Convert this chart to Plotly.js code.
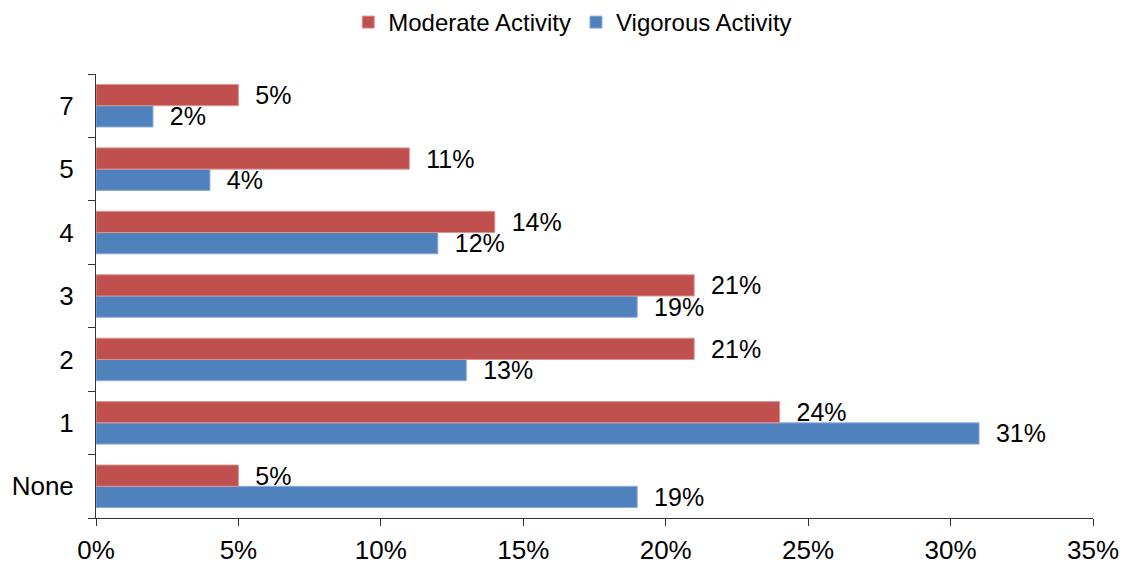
<!DOCTYPE html>
<html>
<head>
<meta charset="utf-8">
<script src="https://cdn.plot.ly/plotly-3.0.1.min.js"></script>
<style>
  html, body { margin: 0; padding: 0; background: #fff; }
  #graph { width: 1123px; height: 566px; }
</style>
</head>
<body>
<div id="graph"></div>
<script>
// days per week (bottom to top)
var days = ['None', '1', '2', '3', '4', '5', '7'];
// percent of respondents
var vigorous = [19, 31, 13, 19, 12, 4, 2];
var moderate = [5, 24, 21, 21, 14, 11, 5];
var xTicks = [0, 5, 10, 15, 20, 25, 30, 35];
var xTickLabels = ['0%', '5%', '10%', '15%', '20%', '25%', '30%', '35%'];

function drawGraph() {
    var fam = 'Liberation Sans, Arial, sans-serif';
    var labelFont = { family: fam, size: 25, color: '#000' };

    // vigorous first so it sits below moderate within each group
    var vig = {
        y: days, x: vigorous, type: 'bar', orientation: 'h',
        name: 'Vigorous Activity',
        marker: { color: '#4F81BD', line: { color: '#8EAADB', width: 1 } },
        texttemplate: '\u00a0\u00a0%{x:.0f}%', textposition: 'outside',
        constraintext: 'none', cliponaxis: false,
        textfont: labelFont, hoverinfo: 'none'
    };
    var mod = {
        y: days, x: moderate, type: 'bar', orientation: 'h',
        name: 'Moderate Activity',
        marker: { color: '#C0504D', line: { color: '#D99694', width: 1 } },
        texttemplate: '\u00a0\u00a0%{x:.0f}%', textposition: 'outside',
        constraintext: 'none', cliponaxis: false,
        textfont: labelFont, hoverinfo: 'none'
    };

    var layout = {
        width: 1123, height: 566,
        margin: { l: 96, r: 30, t: 74, b: 48 },
        paper_bgcolor: '#fff', plot_bgcolor: '#fff',
        font: { family: fam, size: 26, color: '#000' },
        barmode: 'group', bargap: 0.33, bargroupgap: 0,
        showlegend: true,
        legend: {
            orientation: 'h', traceorder: 'reversed',
            x: 0.51, xanchor: 'center', xref: 'container',
            y: 1, yanchor: 'top', yref: 'container',
            font: { family: fam, size: 24, color: '#000' },
            itemwidth: 20
        },
        xaxis: {
            range: [0, 35], tickvals: xTicks, ticktext: xTickLabels,
            showgrid: false, zeroline: false,
            showline: true, linecolor: '#333', linewidth: 1,
            ticks: 'outside', ticklen: 7, tickcolor: '#333',
            ticklabelstandoff: 2, fixedrange: true
        },
        yaxis: {
            type: 'category', categoryorder: 'array', categoryarray: days,
            showgrid: false, zeroline: false,
            showline: true, linecolor: '#333', linewidth: 1,
            ticks: 'outside', ticklen: 7, tickcolor: '#333',
            tickson: 'boundaries', ticklabelstandoff: 16, fixedrange: true
        }
    };

    Plotly.newPlot('graph', [vig, mod], layout, { displayModeBar: false, staticPlot: true });
}

drawGraph();
</script>
</body>
</html>
